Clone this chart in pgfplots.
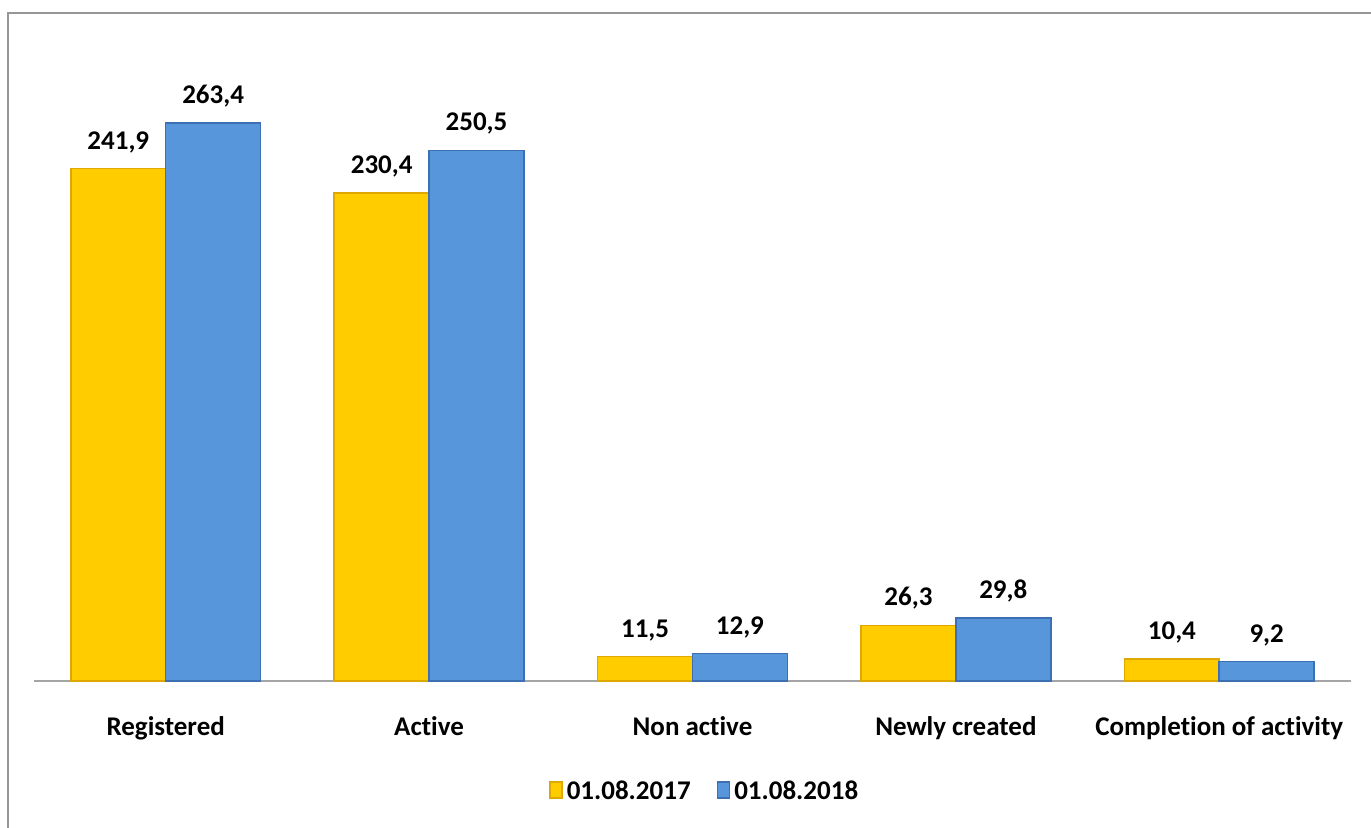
\documentclass[border=0pt]{standalone}
\usepackage{fontspec}
\setmainfont{Carlito}[Ligatures=NoCommon]
\usepackage{pgfplots}
\pgfplotsset{compat=1.18}

\definecolor{barYellow}{RGB}{255,204,0}
\definecolor{edgeYellow}{RGB}{222,168,0}
\definecolor{barBlue}{RGB}{88,150,220}
\definecolor{edgeBlue}{RGB}{60,112,178}
\definecolor{frameGray}{RGB}{150,150,150}
\definecolor{axisGray}{RGB}{165,165,165}

\newcommand{\chartfont}{\fontsize{13.5}{16}\selectfont\bfseries}

\begin{document}
\chartfont
\begin{tikzpicture}[x=0.5pt,y=0.5pt]
% picture area 1371 x 827 px, 1px = 0.5pt
\path[use as bounding box] (0,0) rectangle (1371,827);
\draw[frameGray, line width=1.2pt] (8,-5) -- (8,814) -- (1380,814);

\begin{axis}[
    at={(17pt,73pt)},
    anchor=south west,
    scale only axis,
    width=658.5pt,
    height=317.7pt,
    xmin=-0.5, xmax=4.5,
    ymin=0, ymax=300,
    axis lines*=left,
    y axis line style={draw=none},
    x axis line style={axisGray, line width=0.8pt},
    ytick=\empty,
    xtick=data,
    xticklabels={Registered,Active,Non active,Newly created,Completion of activity},
    xtick style={draw=none},
    xticklabel style={font=\chartfont, yshift=-9pt},
    ybar,
    bar width=0.36,
    bar shift auto=false,
    nodes near coords={\pgfmathprintnumber[fixed,fixed zerofill,precision=1,use comma,assume math mode=true]{\pgfplotspointmeta}},
    every node near coord/.append style={font=\chartfont, yshift=3pt},
    clip=false,
    legend columns=2,
    legend style={draw=none, at={(0.51,0)}, anchor=center, yshift=-55.5pt,
        font=\chartfont,
        /tikz/every even column/.append style={column sep=11pt}},
    legend image code/.code={\filldraw[#1] (0pt,-3pt) rectangle (6pt,5pt);},
]
% 01.08.2017
\addplot[fill=barYellow, draw=edgeYellow, line width=0.8pt, bar shift=-0.18]
    coordinates {(0,241.9) (1,230.4) (2,11.5) (3,26.3) (4,10.4)};
% 01.08.2018
\addplot[fill=barBlue, draw=edgeBlue, line width=0.8pt, bar shift=0.18]
    coordinates {(0,263.4) (1,250.5) (2,12.9) (3,29.8) (4,9.2)};
\legend{01.08.2017, 01.08.2018}
\end{axis}
\end{tikzpicture}
\end{document}
